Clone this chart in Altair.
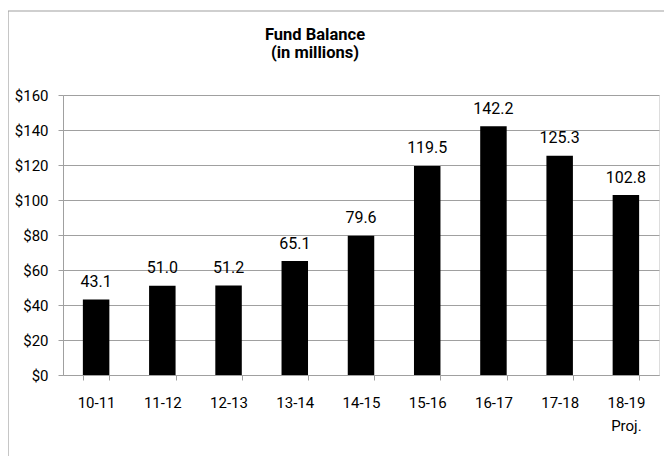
import altair as alt
import pandas as pd

categories = ["10-11", "11-12", "12-13", "13-14", "14-15", "15-16", "16-17", "17-18", "18-19 Proj."]
values = [43.1, 51.0, 51.2, 65.1, 79.6, 119.5, 142.2, 125.3, 102.8]
y_ticks = [0, 20, 40, 60, 80, 100, 120, 140, 160]
title_lines = ["Fund Balance", "(in millions)"]

df = pd.DataFrame({"period": categories, "value": values})
FONT = "Roboto"
GRAY = "#a0a0a0"

x_enc = alt.X(
    "period:N",
    sort=categories,
    title=None,
    scale=alt.Scale(paddingInner=0.6, paddingOuter=0.3),
    axis=alt.Axis(
        labelExpr="split(datum.label, ' ')",
        labelAngle=0,
        labelFont=FONT,
        labelFontSize=15,
        labelColor="#000000",
        labelPadding=15,
        labelLineHeight=23,
        labelOverlap=False,
        tickBand="extent",
        tickColor=GRAY,
        tickSize=5,
        domainColor=GRAY,
        grid=False,
    ),
)
y_enc = alt.Y(
    "value:Q",
    title=None,
    scale=alt.Scale(domain=[0, 160], nice=False),
    axis=alt.Axis(
        values=y_ticks,
        labelExpr="'$' + datum.value",
        labelFont=FONT,
        labelFontSize=15,
        labelColor="#000000",
        labelPadding=10,
        labelOverlap=False,
        tickColor=GRAY,
        tickSize=5,
        domainColor=GRAY,
        gridColor=GRAY,
        grid=True,
    ),
)

one = alt.Data(values=[{}])
border_left = alt.Chart(one).mark_rule(color=GRAY, strokeWidth=1.2).encode(
    x=alt.value(-55), y=alt.value(-84), y2=alt.value(420)
)
border_top = alt.Chart(one).mark_rule(color=GRAY, strokeWidth=1.2).encode(
    x=alt.value(-55), x2=alt.value(640), y=alt.value(-84)
)

title_1 = alt.Chart(alt.Data(values=[{"t": title_lines[0]}])).mark_text(
    font=FONT, fontSize=16.5, fontWeight="bold", color="#000000",
    align="center", baseline="alphabetic"
).encode(x=alt.value(252), y=alt.value(-55), text="t:N")
title_2 = alt.Chart(alt.Data(values=[{"t": title_lines[1]}])).mark_text(
    font=FONT, fontSize=16.5, fontWeight="bold", color="#000000",
    align="center", baseline="alphabetic"
).encode(x=alt.value(252), y=alt.value(-37.5), text="t:N")

base = alt.Chart(df).encode(x=x_enc, y=y_enc)
bars = base.mark_bar(color="#000000")
labels = base.mark_text(
    font=FONT, fontSize=16, color="#000000", baseline="alphabetic", dy=-12.5
).encode(text=alt.Text("value:Q", format=".1f"))

chart = alt.layer(border_left, border_top, title_1, title_2, bars, labels).properties(
    width=596,
    height=280,
    autosize=alt.AutoSizeParams(type="none"),
    padding={"left": 55, "top": 87, "right": 5, "bottom": 81},
).configure_view(stroke=None).configure(background="#ffffff")

chart.save("out.html", embed_options={"renderer": "svg", "actions": False})
